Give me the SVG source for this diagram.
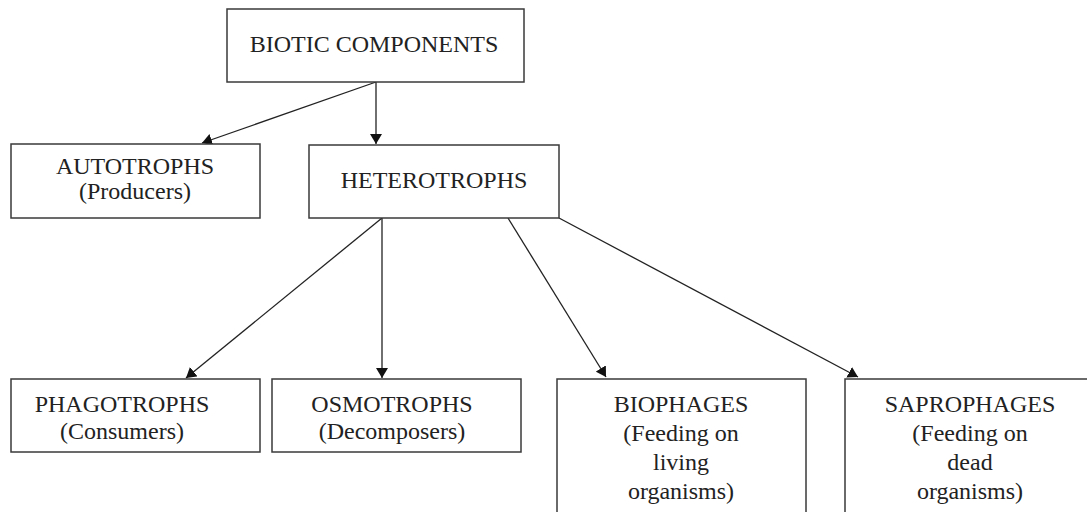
<svg xmlns="http://www.w3.org/2000/svg" width="1087" height="512" viewBox="0 0 1087 512">
<style>
.box{fill:#fff;stroke:#3a3a3a;stroke-width:1.5}
.t{font-family:"Liberation Serif","Times New Roman",serif;font-size:24px;fill:#222;text-anchor:middle}
.c{stroke:#222;stroke-width:1.3;fill:none;marker-end:url(#ah)}
</style>
<defs>
<marker id="ah" markerUnits="userSpaceOnUse" markerWidth="11" markerHeight="12" refX="10" refY="6" orient="auto">
<path d="M0,0 L10,6 L0,12 z" fill="#111"/>
</marker>
</defs>
<rect width="1087" height="512" fill="#fff"/>
<g id="connectors">
<line class="c" x1="376" y1="82" x2="202" y2="143"/>
<line class="c" x1="376" y1="82" x2="376" y2="144"/>
<line class="c" x1="382" y1="218" x2="186" y2="378"/>
<line class="c" x1="382" y1="218" x2="382" y2="378"/>
<line class="c" x1="508" y1="218" x2="606" y2="377"/>
<line class="c" x1="559" y1="218" x2="858" y2="377"/>
</g>
<g id="biotic">
<rect class="box" x="227" y="9" width="297" height="73"/>
<text class="t" x="374" y="52">BIOTIC COMPONENTS</text>
</g>
<g id="autotrophs">
<rect class="box" x="11" y="144" width="249" height="74"/>
<text class="t" x="135" y="174">AUTOTROPHS</text>
<text class="t" x="135" y="199">(Producers)</text>
</g>
<g id="heterotrophs">
<rect class="box" x="309" y="145" width="250" height="73"/>
<text class="t" x="434" y="188">HETEROTROPHS</text>
</g>
<g id="phagotrophs">
<rect class="box" x="11" y="379" width="249" height="73"/>
<text class="t" x="122" y="412">PHAGOTROPHS</text>
<text class="t" x="122" y="439">(Consumers)</text>
</g>
<g id="osmotrophs">
<rect class="box" x="272" y="379" width="249" height="73"/>
<text class="t" x="392" y="412">OSMOTROPHS</text>
<text class="t" x="392" y="439">(Decomposers)</text>
</g>
<g id="biophages">
<rect class="box" x="557" y="379" width="249" height="150"/>
<text class="t" x="681" y="412">BIOPHAGES</text>
<text class="t" x="681" y="441">(Feeding on</text>
<text class="t" x="681" y="470">living</text>
<text class="t" x="681" y="499">organisms)</text>
</g>
<g id="saprophages">
<rect class="box" x="845" y="379" width="250" height="150"/>
<text class="t" x="970" y="412">SAPROPHAGES</text>
<text class="t" x="970" y="441">(Feeding on</text>
<text class="t" x="970" y="470">dead</text>
<text class="t" x="970" y="499">organisms)</text>
</g>
</svg>
